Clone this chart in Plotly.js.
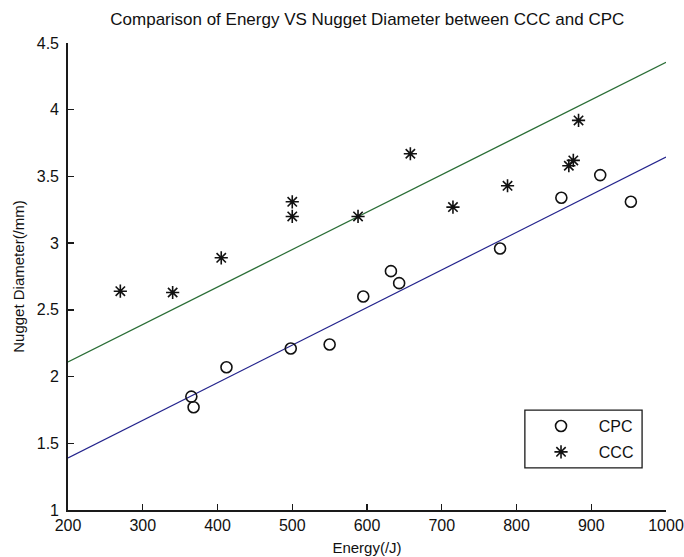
<!DOCTYPE html>
<html>
<head>
<meta charset="utf-8">
<script src="https://cdn.plot.ly/plotly-3.0.1.min.js"></script>
<style>
html,body{margin:0;padding:0;background:#fff;}
#chart{width:684px;height:557px;}
</style>
</head>
<body>
<div id="chart"></div>
<script>
// Data
const cpcEnergy = [365, 368, 412, 498, 550, 595, 632, 643, 778, 860, 912, 953];
const cpcDiam   = [1.85, 1.77, 2.07, 2.21, 2.24, 2.60, 2.79, 2.70, 2.96, 3.34, 3.51, 3.31];
const cccEnergy = [270, 340, 405, 500, 500, 588, 658, 715, 788, 870, 876, 883];
const cccDiam   = [2.64, 2.63, 2.89, 3.31, 3.20, 3.20, 3.67, 3.27, 3.43, 3.58, 3.62, 3.92];
// Fitted lines (endpoints at the axis limits)
const fitEnergy = [200, 1000];
const fitCPC    = [1.39, 3.645];
const fitCCC    = [2.11, 4.355];
const xTicks = [200, 300, 400, 500, 600, 700, 800, 900, 1000];
const yTicks = [1, 1.5, 2, 2.5, 3, 3.5, 4, 4.5];
const seriesNames = ['CPC', 'CCC'];

const FONT = "'Liberation Sans', Arial, sans-serif";
const PAD = '\u00A0\u00A0\u00A0\u00A0';

const traces = [
  {x: fitEnergy, y: fitCCC, mode: 'lines', line: {color: '#2a6e36', width: 1.2}, showlegend: false, hoverinfo: 'skip'},
  {x: fitEnergy, y: fitCPC, mode: 'lines', line: {color: '#23238c', width: 1.2}, showlegend: false, hoverinfo: 'skip'},
  {x: cpcEnergy, y: cpcDiam, mode: 'markers', name: PAD + seriesNames[0], legendgroup: 'a',
   marker: {symbol: 'circle-open', size: 11, color: '#111', line: {width: 1.6, color: '#111'}}},
  {x: cccEnergy, y: cccDiam, mode: 'markers', name: PAD + seriesNames[1], legendgroup: 'b',
   marker: {symbol: 'asterisk-open', size: 11, color: '#111', line: {width: 1.6, color: '#111'}}}
];

const layout = {
  width: 684, height: 557,
  margin: {l: 68, r: 18, t: 43, b: 47, pad: 0},
  paper_bgcolor: '#fff', plot_bgcolor: '#fff',
  font: {family: FONT, size: 16, color: '#111'},
  title: {text: 'Comparison of Energy VS Nugget Diameter between CCC and CPC',
          font: {family: FONT, size: 17, color: '#111'}, x: 0.537, xanchor: 'center', y: 0.965, yanchor: 'middle'},
  xaxis: {
    range: [200, 1000], tickvals: xTicks, ticktext: xTicks.map(String),
    showgrid: false, zeroline: false, showline: true, linecolor: '#1a1a1a', linewidth: 1.8,
    ticks: 'inside', ticklen: 6, tickcolor: '#1a1a1a', tickwidth: 1.4, mirror: false,
    tickfont: {family: FONT, size: 16, color: '#111'},
    title: {text: 'Energy(/J)', font: {family: FONT, size: 15, color: '#111'}, standoff: 9}
  },
  yaxis: {
    range: [1, 4.5], tickvals: yTicks, ticktext: yTicks.map(String),
    showgrid: false, zeroline: false, showline: true, linecolor: '#1a1a1a', linewidth: 1.8,
    ticks: 'inside', ticklen: 6, tickcolor: '#1a1a1a', tickwidth: 1.4, mirror: false,
    ticklabelstandoff: 4,
    tickfont: {family: FONT, size: 16, color: '#111'},
    title: {text: 'Nugget Diameter(/mm)', font: {family: FONT, size: 15, color: '#111'}, standoff: 8}
  },
  shapes: [
    {type: 'rect', xref: 'paper', yref: 'paper', x0: 0.764, x1: 0.960, y0: 0.090, y1: 0.214,
     line: {color: '#1a1a1a', width: 1.3}, fillcolor: '#fff', layer: 'above'}
  ],
  showlegend: true,
  legend: {x: 0.791, xanchor: 'left', y: 0.216, yanchor: 'top', traceorder: 'grouped',
           bgcolor: 'rgba(0,0,0,0)', borderwidth: 0,
           font: {family: FONT, size: 16, color: '#111'}, tracegroupgap: 2}
};

Plotly.newPlot('chart', traces, layout, {displayModeBar: false, staticPlot: true});
</script>
</body>
</html>
